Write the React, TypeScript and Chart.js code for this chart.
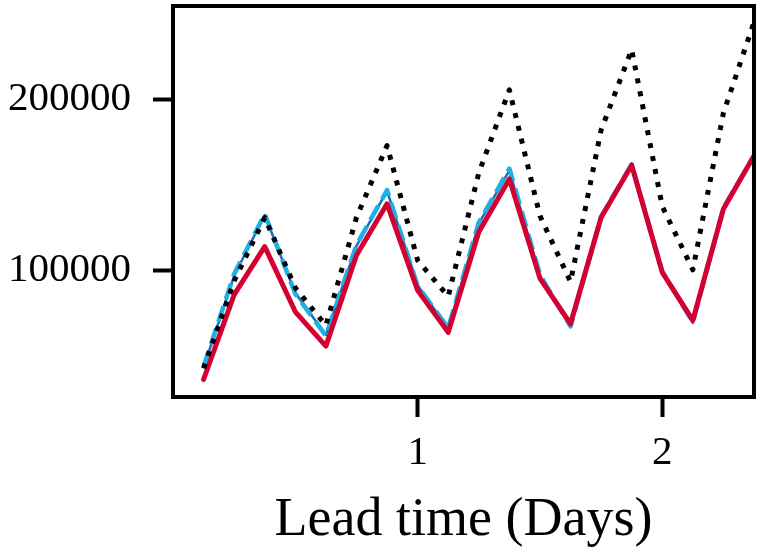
import { useEffect, useRef } from 'react';
import { Chart, ChartConfiguration, Plugin, registerables } from 'chart.js';

Chart.register(...registerables);

// lead time in days, one point every 3 hours
const LEAD_DAYS = [
  0.125, 0.25, 0.375, 0.5, 0.625, 0.75, 0.875, 1.0, 1.125, 1.25,
  1.375, 1.5, 1.625, 1.75, 1.875, 2.0, 2.125, 2.25, 2.375,
];

const DOTTED_BLACK = [
  43000, 94000, 131000, 90000, 68000, 131000, 173000, 106000, 85000, 157000,
  205500, 132000, 93500, 182000, 229000, 137500, 100500, 192000, 245000,
];
const SOLID_RED = [
  36500, 86000, 114000, 76000, 56000, 109000, 139000, 88500, 64000, 122500,
  153500, 95500, 69000, 131000, 161500, 99000, 71000, 136000, 167000,
];
const DASHED_CYAN = [
  44000, 98000, 133000, 86500, 62000, 115000, 147000, 91000, 66500, 128000,
  159500, 97500, 67500, 131500, 162000, 99500, 70000, 136500, 167000,
];
const SOLID_BLUE = [
  43500, 97000, 132500, 87000, 62500, 114500, 146500, 91500, 66000, 127500,
  158500, 97000, 67000, 131000, 162000, 99000, 69500, 136500, 167000,
];

const X_TICKS = [1, 2];
const Y_TICKS = [100000, 200000];
const X_MIN = 0;
const X_MAX = 2.375;
const Y_MIN = 26300;
const Y_MAX = 254400;

const FONT = '"Liberation Serif", "Times New Roman", serif';

const toPoints = (ys: number[]) => ys.map((y, i) => ({ x: LEAD_DAYS[i], y }));

// black frame round the plot area, drawn over the lines like matplotlib spines
const frame: Plugin<'line'> = {
  id: 'frame',
  afterDatasetsDraw(chart) {
    const { ctx, chartArea: a } = chart;
    ctx.save();
    ctx.strokeStyle = '#000';
    ctx.lineWidth = 4;
    ctx.strokeRect(a.left, a.top, a.right - a.left, a.bottom - a.top);
    ctx.restore();
  },
};

export default function App() {
  const canvasRef = useRef<HTMLCanvasElement>(null);
  const chartRef = useRef<Chart | null>(null);

  useEffect(() => {
    if (!canvasRef.current) return;
    if (chartRef.current) chartRef.current.destroy();

    const common = { pointRadius: 0, tension: 0, borderJoinStyle: 'round' as const, fill: false };

    const config: ChartConfiguration<'line'> = {
      type: 'line',
      data: {
        // first dataset is drawn on top
        datasets: [
          {
            ...common,
            data: toPoints(DOTTED_BLACK),
            borderColor: '#000000',
            borderWidth: 5,
            borderDash: [5, 8.2],
            borderCapStyle: 'butt',
          },
          {
            ...common,
            data: toPoints(SOLID_RED),
            borderColor: '#D50032',
            borderWidth: 5,
            borderCapStyle: 'round',
          },
          {
            ...common,
            data: toPoints(DASHED_CYAN),
            borderColor: '#1CB0E4',
            borderWidth: 4.6,
            borderDash: [16.5, 7.2],
            borderCapStyle: 'butt',
          },
          {
            ...common,
            data: toPoints(SOLID_BLUE),
            borderColor: '#1F6DB5',
            borderWidth: 2.5,
          },
        ],
      },
      options: {
        animation: false,
        responsive: false,
        layout: { padding: { top: 6, right: 7, left: 0, bottom: 0 } },
        plugins: {
          legend: { display: false },
          tooltip: { enabled: false },
        },
        scales: {
          x: {
            type: 'linear',
            min: X_MIN,
            max: X_MAX,
            afterBuildTicks: (s) => {
              s.ticks = X_TICKS.map((v) => ({ value: v }));
            },
            afterFit: (s) => {
              s.height = 158;
              s.paddingLeft = 0;
              s.paddingRight = 0;
            },
            border: { display: false },
            grid: {
              drawOnChartArea: false,
              drawTicks: true,
              tickLength: 20,
              tickWidth: 4,
              tickColor: '#000',
            },
            ticks: {
              color: '#000',
              padding: 12,
              maxRotation: 0,
              font: { family: FONT, size: 41, lineHeight: 1.2 },
              callback: (v) => String(v),
            },
            title: {
              display: true,
              text: 'Lead time (Days)',
              color: '#000',
              padding: { top: 0, bottom: 2 },
              font: { family: FONT, size: 54, lineHeight: 1.2 },
            },
          },
          y: {
            type: 'linear',
            min: Y_MIN,
            max: Y_MAX,
            afterBuildTicks: (s) => {
              s.ticks = Y_TICKS.map((v) => ({ value: v }));
            },
            afterFit: (s) => {
              s.width = 173;
              s.paddingTop = 0;
              s.paddingBottom = 0;
            },
            border: { display: false },
            grid: {
              drawOnChartArea: false,
              drawTicks: true,
              tickLength: 20,
              tickWidth: 4,
              tickColor: '#000',
            },
            ticks: {
              color: '#000',
              padding: 22,
              font: { family: FONT, size: 41, lineHeight: 1.2 },
              callback: (v) => String(v),
            },
          },
        },
      },
      plugins: [frame],
    };

    chartRef.current = new Chart(canvasRef.current, config);

    return () => {
      if (chartRef.current) {
        chartRef.current.destroy();
        chartRef.current = null;
      }
    };
  }, []);

  return (
    <div style={{ position: 'absolute', left: 0, top: 0, width: 761, height: 555, background: '#fff' }}>
      <canvas ref={canvasRef} width={761} height={555} style={{ display: 'block', width: 761, height: 555 }} />
    </div>
  );
}
